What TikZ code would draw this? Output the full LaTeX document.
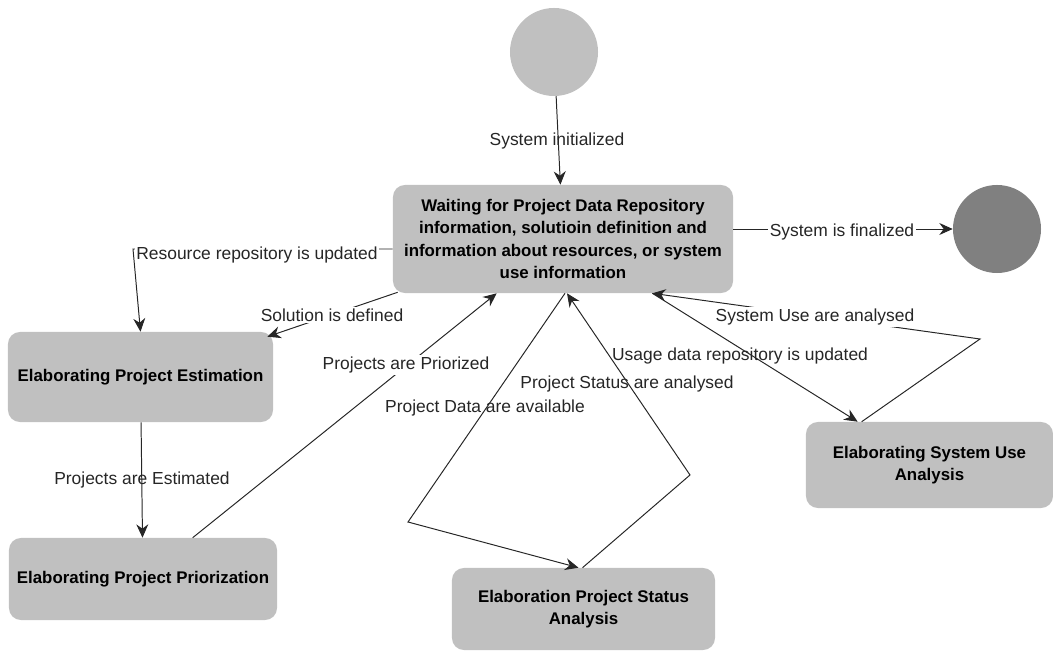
\documentclass[tikz,border=0pt]{standalone}
\usepackage{fontspec}
\setmainfont{Liberation Sans}
\usepackage{tikz}
\usetikzlibrary{arrows.meta,calc}
\usepackage{xcolor}
\definecolor{stategray}{RGB}{192,192,192}
\definecolor{endgray}{RGB}{128,128,128}

\begin{document}
\begin{tikzpicture}[x=0.025cm, y=-0.025cm, >={Stealth[length=9.5pt,width=8.5pt]},
every node/.style={font=\fontsize{12.4}{14}\selectfont, text=black!85},
state/.style={fill=stategray, rounded corners=0.3cm, align=center, text=black, font=\bfseries\fontsize{12}{16}\selectfont, inner sep=0pt},
dot/.style={circle, minimum size=2.2cm, inner sep=0pt},
lbl/.style={fill=white, inner sep=1pt},
arr/.style={->, line width=0.7pt, draw=black!85}]
\useasboundingbox (0,0) rectangle (1053,655);
\node[dot,fill=stategray] (init) at (554,52) {};
\node[state,minimum width=8.5cm,minimum height=2.7cm] (waiting) at (563,239) {Waiting for Project Data Repository\\information, solutioin definition and\\information about resources, or system\\use information};
\node[dot,fill=endgray] (final) at (997,229) {};
\node[state,minimum width=6.625cm,minimum height=2.25cm] (estim) at (140.5,377) {Elaborating Project Estimation};
\node[state,minimum width=6.7cm,minimum height=2.05cm] (prior) at (143,579) {Elaborating Project Priorization};
\node[state,minimum width=6.575cm,minimum height=2.05cm] (status) at (583.5,609) {Elaboration Project Status\\Analysis};
\node[state,minimum width=6.175cm,minimum height=2.15cm] (use) at (929.5,465) {Elaborating System Use\\Analysis};
\coordinate (c1) at (133,249);
\coordinate (c2) at (408,522);
\coordinate (c3) at (690,475);
\coordinate (c4) at (980,339);
\draw[arr] (init) -- (waiting);
\draw[arr] (waiting.east |- final) -- (final);
\draw[arr] (waiting.west |- c1) -- (c1) -- (estim.north);
\draw[arr] ($(waiting.south west)+(5,-1)$) -- ($(estim.north east)+(-6,5)$);
\draw[arr] (estim) -- (prior);
\draw[arr] ($(prior.north west)+(184,0)$) -- ($(waiting.south west)+(104,0)$);
\draw[arr] ($(waiting.south)+(2,0)$) -- (c2) -- ($(status.north)+(-5,0)$);
\draw[arr] ($(status.north)+(-1,0)$) -- (c3) -- ($(waiting.south)+(4,0)$);
\draw[arr] ($(waiting.south east)+(-81,0)$) -- ($(use.north west)+(52,0)$);
\draw[arr] ($(use.north west)+(56,0)$) -- (c4) -- ($(waiting.south east)+(-81,0)$);
\node (linit) at (557,141) {System initialized};
\node[lbl] (lfinal) at (842,232) {System is finalized};
\node[lbl] (lres) at (257,255) {Resource repository is updated};
\node[lbl] (lsol) at (332,315) {Solution is defined};
\node (lest) at (142,480) {Projects are Estimated};
\node[lbl] (lprio) at (406,365) {Projects are Priorized};
\node (ldata) at (485,408) {Project Data are available};
\node (lstat) at (627,384) {Project Status are analysed};
\node (lusage) at (740,356) {Usage data repository is updated};
\node[lbl] (lsys) at (815,317) {System Use are analysed};
\end{tikzpicture}
\end{document}
